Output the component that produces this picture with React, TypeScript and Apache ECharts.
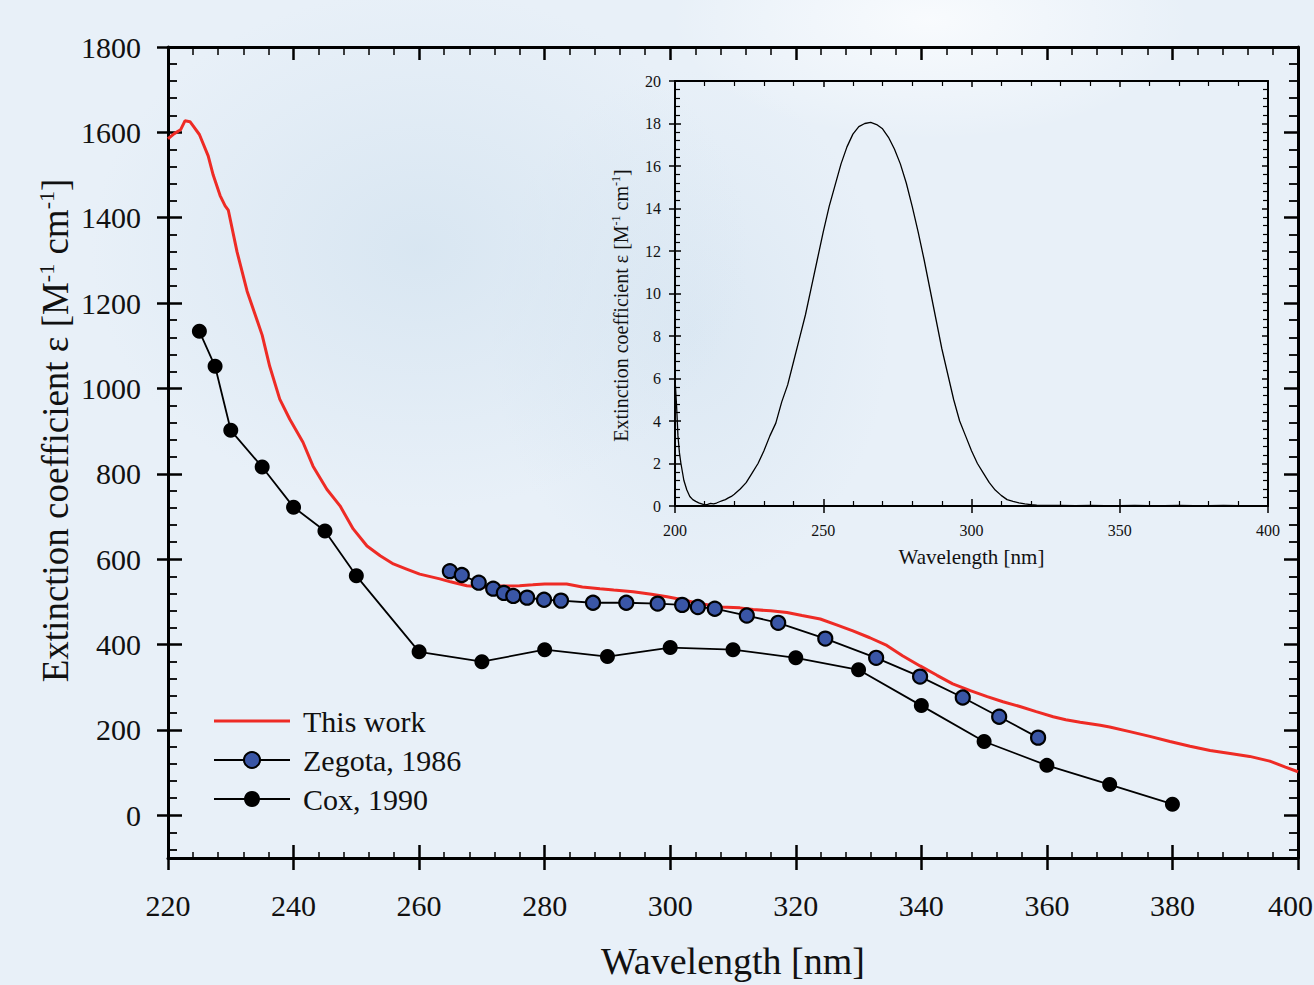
import React, { useEffect, useRef } from "react";
import * as echarts from "echarts";

const FONT = "Liberation Serif";

// Main plot: "This work" (red curve)
const thisWorkX = [220, 221, 222, 222.7, 223.5, 224, 225, 226.4, 227.2, 228.3, 229.1, 229.6, 231, 232.6, 234.3, 235, 236.2, 237.8, 239.4, 241.5, 243.1, 245.3, 247.4, 249.5, 251.7, 253.8, 255.9, 258, 260.1, 263.3, 265, 267.6, 270, 272.9, 276, 278.1, 280, 283.5, 286, 288.8, 291, 294.1, 297, 299.5, 302, 304.7, 308, 311.1, 313.2, 316, 318.6, 321, 323.9, 326.5, 329.1, 331.8, 334.5, 337, 339.8, 342.5, 345, 347.8, 350.5, 353, 355.7, 358.3, 361, 363, 365.3, 368.5, 370, 373.2, 376.4, 379.6, 382.8, 386, 389.2, 392.3, 395.5, 398, 400];
const thisWorkY = [1585, 1597, 1606, 1627, 1625, 1615, 1595, 1545, 1500, 1452, 1428, 1418, 1320, 1228, 1155, 1125, 1052, 975, 928, 874, 818, 764, 725, 671, 631, 608, 589, 577, 565, 554, 547, 538, 535, 537, 538, 540, 542, 542, 535, 531, 528, 524, 518, 512, 505, 496, 488, 486, 482, 479, 475, 468, 460, 446, 432, 416, 398, 374, 350, 328, 308, 292, 278, 266, 255, 243, 231, 224, 218, 211, 207, 196, 185, 173, 162, 152, 145, 138, 127, 113, 102];

// Zegota, 1986
const zegotaX = [264.9, 266.8, 269.5, 271.8, 273.5, 275, 277.2, 279.9, 282.6, 287.7, 293, 298, 301.9, 304.4, 307.1, 312.2, 317.2, 324.7, 332.8, 339.8, 346.6, 352.4, 358.6];
const zegotaY = [572, 563, 545, 531, 521, 514, 510, 505, 503, 498, 498, 496, 493, 488, 484, 468, 451, 414, 369, 325, 276, 231, 182];

// Cox, 1990
const coxX = [225, 227.5, 230, 235, 240, 245, 250, 260, 270, 280, 290, 300, 310, 320, 330, 340, 350, 360, 370, 380];
const coxY = [1134, 1052, 902, 816, 722, 666, 561, 383, 360, 388, 372, 393, 388, 369, 341, 257, 173, 117, 72, 26];

// Inset spectrum
const insetX = [200, 200.5, 201, 201.5, 202, 203, 204, 205, 206, 207, 208, 209, 210, 211, 212, 213, 214, 215, 216, 217, 218, 219, 220, 222, 224, 226, 228, 230, 232, 234, 236, 238, 240, 242, 244, 246, 248, 250, 252, 254, 256, 258, 260, 262, 264, 266, 268, 270, 272, 274, 276, 278, 280, 282, 284, 286, 288, 290, 292, 294, 296, 298, 300, 302, 304, 306, 308, 310, 312, 314, 316, 318, 320, 322, 325, 330, 335, 340, 345, 350, 355, 360, 365, 370, 375, 380, 385, 390, 395, 400];
const insetY = [6.0, 4.8, 3.3, 2.5, 2.0, 1.2, 0.75, 0.45, 0.3, 0.22, 0.15, 0.1, 0.05, 0.08, 0.12, 0.1, 0.14, 0.2, 0.25, 0.3, 0.38, 0.45, 0.55, 0.8, 1.1, 1.55, 2.0, 2.6, 3.3, 3.9, 4.9, 5.7, 6.8, 7.9, 9.0, 10.3, 11.6, 12.9, 14.1, 15.1, 16.1, 16.9, 17.5, 17.85, 18.0, 18.05, 17.95, 17.75, 17.35, 16.8, 16.1, 15.2, 14.1, 12.9, 11.6, 10.2, 8.8, 7.4, 6.2, 5.0, 4.0, 3.3, 2.6, 2.0, 1.55, 1.1, 0.75, 0.5, 0.3, 0.22, 0.15, 0.1, 0.06, 0.04, 0.03, 0.03, 0.02, 0.03, 0.02, 0.02, 0.03, 0.02, 0.02, 0.03, 0.02, 0.02, 0.03, 0.02, 0.02, 0.02];

// Tick labels
const mainXTicks = [220, 240, 260, 280, 300, 320, 340, 360, 380, 400];
const mainYTicks = [0, 200, 400, 600, 800, 1000, 1200, 1400, 1600, 1800];
const insetXTicks = [200, 250, 300, 350, 400];
const insetYTicks = [0, 2, 4, 6, 8, 10, 12, 14, 16, 18, 20];
const legendNames = ["This work", "Zegota, 1986", "Cox, 1990"];

const mainYMinor: number[] = [];
for (let v = -80; v < 1800; v += 40) {
  if (v % 200 !== 0) mainYMinor.push(v);
}

const zip = (xs: number[], ys: number[]) => xs.map((x, i) => [x, ys[i]]);

const BLACK = "#000";
const TXT = "#111";
const RED = "#ee2b25";
const W = 1314;

export default function App() {
  const ref = useRef<HTMLDivElement>(null);
  useEffect(() => {
    if (!ref.current) return;
    const chart = echarts.init(ref.current, null, { renderer: "svg" });
    const hiddenLabel = { show: false };
    const noLine = { show: false, onZero: false };
    const option: any = {
      animation: false,
      backgroundColor: "transparent",
      textStyle: { fontFamily: FONT, color: TXT },
      grid: [
        { left: 168, top: 47, width: 1130, height: 812 },
        { left: 675, top: 81, width: 593, height: 425 },
      ],
      legend: {
        orient: "vertical",
        left: 208,
        top: 701,
        itemWidth: 76,
        itemHeight: 20,
        itemGap: 9,
        data: [
          { name: legendNames[0], icon: "path://M0,0 L76,0 L76,3 L0,3 Z", itemStyle: { color: RED } },
          { name: legendNames[1] },
          { name: legendNames[2] },
        ],
        textStyle: { fontSize: 30, fontFamily: FONT, color: TXT, padding: [0, 0, 0, 8] },
      },
      xAxis: [
        {
          gridIndex: 0, type: "value", min: 220, max: 400, interval: 20, position: "bottom",
          axisLine: { onZero: false, lineStyle: { color: BLACK, width: 3 } },
          axisTick: { inside: true, length: 13, lineStyle: { color: BLACK, width: 2.5 } },
          minorTick: { show: true, splitNumber: 5, length: 6, lineStyle: { color: BLACK, width: 1.5 } },
          splitLine: { show: false },
          axisLabel: hiddenLabel,
          name: "Wavelength [nm]", nameLocation: "middle", nameGap: 84,
          nameTextStyle: { fontSize: 38, fontFamily: FONT, color: TXT },
        },
        {
          gridIndex: 0, type: "value", min: 220, max: 400, interval: 20, position: "bottom",
          axisLine: noLine, axisTick: { inside: false, length: 12, lineStyle: { color: BLACK, width: 2.5 } },
          splitLine: { show: false }, axisLabel: hiddenLabel,
        },
        {
          gridIndex: 0, type: "value", min: 220, max: 400, interval: 20, position: "top",
          axisLine: { onZero: false, lineStyle: { color: BLACK, width: 3 } },
          axisTick: { inside: true, length: 13, lineStyle: { color: BLACK, width: 2.5 } },
          minorTick: { show: true, splitNumber: 5, length: 8, lineStyle: { color: BLACK, width: 1.5 } },
          splitLine: { show: false }, axisLabel: hiddenLabel,
        },
        {
          gridIndex: 1, type: "value", min: 200, max: 400, interval: 50, position: "bottom",
          axisLine: { onZero: false, lineStyle: { color: BLACK, width: 2 } },
          axisTick: { inside: true, length: 7, lineStyle: { color: BLACK, width: 1.5 } },
          minorTick: { show: true, splitNumber: 5, length: 5, lineStyle: { color: BLACK, width: 1.2 } },
          splitLine: { show: false },
          axisLabel: hiddenLabel,
          name: "Wavelength [nm]", nameLocation: "middle", nameGap: 40,
          nameTextStyle: { fontSize: 21, fontFamily: FONT, color: TXT },
        },
        {
          gridIndex: 1, type: "value", min: 200, max: 400, interval: 50, position: "bottom",
          axisLine: noLine, axisTick: { inside: false, length: 7, lineStyle: { color: BLACK, width: 1.5 } },
          splitLine: { show: false }, axisLabel: hiddenLabel,
        },
        {
          gridIndex: 1, type: "value", min: 200, max: 400, interval: 50, position: "top",
          axisLine: { onZero: false, lineStyle: { color: BLACK, width: 2 } },
          axisTick: { inside: true, length: 6, lineStyle: { color: BLACK, width: 1.5 } },
          minorTick: { show: true, splitNumber: 5, length: 5, lineStyle: { color: BLACK, width: 1.2 } },
          splitLine: { show: false }, axisLabel: hiddenLabel,
        },
      ],
      yAxis: [
        {
          gridIndex: 0, type: "value", min: -100, max: 1800, position: "left",
          axisLine: { onZero: false, lineStyle: { color: BLACK, width: 3 } },
          axisTick: { inside: true, length: 14, customValues: mainYTicks, lineStyle: { color: BLACK, width: 2.5 } },
          splitLine: { show: false },
          axisLabel: hiddenLabel,
          name: "{a|Extinction coefficient ε [M}{s|-1}{a| cm}{s|-1}{a|]}",
          nameLocation: "middle", nameGap: 93,
          nameTextStyle: {
            padding: [0, 0, 0, 44],
            rich: {
              a: { fontSize: 37, fontFamily: FONT, color: TXT, lineHeight: 40 },
              s: { fontSize: 22, fontFamily: FONT, color: TXT, verticalAlign: "top", lineHeight: 40 },
            },
          },
        },
        {
          gridIndex: 0, type: "value", min: -100, max: 1800, position: "left",
          axisLine: noLine,
          axisTick: { inside: false, length: 11, customValues: mainYTicks, lineStyle: { color: BLACK, width: 2.5 } },
          splitLine: { show: false }, axisLabel: hiddenLabel,
        },
        {
          gridIndex: 0, type: "value", min: -100, max: 1800, position: "left",
          axisLine: noLine,
          axisTick: { inside: true, length: 9, customValues: mainYMinor, lineStyle: { color: BLACK, width: 1.8 } },
          splitLine: { show: false }, axisLabel: hiddenLabel,
        },
        {
          gridIndex: 0, type: "value", min: -100, max: 1800, position: "right",
          axisLine: { onZero: false, lineStyle: { color: BLACK, width: 3 } },
          axisTick: { inside: true, length: 14, customValues: mainYTicks, lineStyle: { color: BLACK, width: 2.5 } },
          splitLine: { show: false }, axisLabel: hiddenLabel,
        },
        {
          gridIndex: 0, type: "value", min: -100, max: 1800, position: "right",
          axisLine: noLine,
          axisTick: { inside: true, length: 9, customValues: mainYMinor, lineStyle: { color: BLACK, width: 1.8 } },
          splitLine: { show: false }, axisLabel: hiddenLabel,
        },
        {
          gridIndex: 1, type: "value", min: 0, max: 20, interval: 2, position: "left",
          axisLine: { onZero: false, lineStyle: { color: BLACK, width: 2 } },
          axisTick: { inside: true, length: 6, lineStyle: { color: BLACK, width: 1.5 } },
          minorTick: { show: true, splitNumber: 5, length: 5, lineStyle: { color: BLACK, width: 1.2 } },
          splitLine: { show: false },
          axisLabel: hiddenLabel,
          name: "{a|Extinction coefficient ε [M}{s|-1}{a| cm}{s|-1}{a|]}",
          nameLocation: "middle", nameGap: 43,
          nameTextStyle: {
            padding: [0, 24, 0, 0],
            rich: {
              a: { fontSize: 20, fontFamily: FONT, color: TXT, lineHeight: 22 },
              s: { fontSize: 12, fontFamily: FONT, color: TXT, verticalAlign: "top", lineHeight: 22 },
            },
          },
        },
        {
          gridIndex: 1, type: "value", min: 0, max: 20, interval: 2, position: "left",
          axisLine: noLine, axisTick: { inside: false, length: 6, lineStyle: { color: BLACK, width: 1.5 } },
          splitLine: { show: false }, axisLabel: hiddenLabel,
        },
        {
          gridIndex: 1, type: "value", min: 0, max: 20, interval: 2, position: "right",
          axisLine: { onZero: false, lineStyle: { color: BLACK, width: 2 } },
          axisTick: { inside: true, length: 6, lineStyle: { color: BLACK, width: 1.5 } },
          minorTick: { show: true, splitNumber: 5, length: 5, lineStyle: { color: BLACK, width: 1.2 } },
          splitLine: { show: false }, axisLabel: hiddenLabel,
        },
      ],
      series: [
        {
          name: "This work", type: "line", xAxisIndex: 0, yAxisIndex: 0,
          data: zip(thisWorkX, thisWorkY), symbol: "none",
          lineStyle: { color: RED, width: 3 }, itemStyle: { color: RED }, z: 3,
        },
        {
          name: "Zegota, 1986", type: "line", xAxisIndex: 0, yAxisIndex: 0,
          data: zip(zegotaX, zegotaY), symbol: "circle", symbolSize: 14,
          lineStyle: { color: BLACK, width: 1.8 },
          itemStyle: { color: "#3a56a6", borderColor: BLACK, borderWidth: 2.2 }, z: 4,
        },
        {
          name: "Cox, 1990", type: "line", xAxisIndex: 0, yAxisIndex: 0,
          data: zip(coxX, coxY), symbol: "circle", symbolSize: 15,
          lineStyle: { color: BLACK, width: 1.8 },
          itemStyle: { color: BLACK, borderColor: BLACK, borderWidth: 0 }, z: 4,
        },
        {
          name: "Inset", type: "line", xAxisIndex: 3, yAxisIndex: 5,
          data: zip(insetX, insetY), symbol: "none",
          lineStyle: { color: BLACK, width: 1.3 }, z: 3,
        },
      ],
    };
    chart.setOption(option);

    // Tick labels placed through the axes' own scales
    const labels: any[] = [];
    const mkText = (text: string, x: number, y: number, size: number, align: string, vAlign: string) => ({
      type: "text",
      x,
      y,
      silent: true,
      z: 10,
      style: { text, fontSize: size, fontFamily: FONT, fill: TXT, align, verticalAlign: vAlign },
    });
    const mainBottom = chart.convertToPixel({ yAxisIndex: 0 }, -100) as number;
    const mainLeft = chart.convertToPixel({ xAxisIndex: 0 }, 220) as number;
    mainXTicks.forEach((v) => {
      const px = chart.convertToPixel({ xAxisIndex: 0 }, v) as number;
      const half = String(v).length * 7.5;
      if (px + half > W - 1) {
        labels.push(mkText(String(v), W - 1, mainBottom + 47, 30, "right", "middle"));
      } else {
        labels.push(mkText(String(v), px, mainBottom + 47, 30, "center", "middle"));
      }
    });
    mainYTicks.forEach((v) => {
      const py = chart.convertToPixel({ yAxisIndex: 0 }, v) as number;
      labels.push(mkText(String(v), mainLeft - 27, py, 30, "right", "middle"));
    });
    const insetBottom = chart.convertToPixel({ yAxisIndex: 5 }, 0) as number;
    const insetLeft = chart.convertToPixel({ xAxisIndex: 3 }, 200) as number;
    insetXTicks.forEach((v) => {
      const px = chart.convertToPixel({ xAxisIndex: 3 }, v) as number;
      labels.push(mkText(String(v), px, insetBottom + 24, 16, "center", "middle"));
    });
    insetYTicks.forEach((v) => {
      const py = chart.convertToPixel({ yAxisIndex: 5 }, v) as number;
      labels.push(mkText(String(v), insetLeft - 14, py, 16, "right", "middle"));
    });
    chart.setOption({ graphic: labels });

    return () => chart.dispose();
  }, []);

  return (
    <div
      style={{
        position: "absolute",
        left: 0,
        top: 0,
        width: 1314,
        height: 985,
        overflow: "hidden",
        background:
          "radial-gradient(ellipse 330px 260px at 420px 250px, rgba(210,226,239,0.7), rgba(210,226,239,0) 100%)," +
          "radial-gradient(ellipse 200px 260px at 690px 330px, rgba(212,227,240,0.6), rgba(212,227,240,0) 100%)," +
          "radial-gradient(ellipse 260px 120px at 930px 20px, rgba(250,252,254,0.9), rgba(250,252,254,0) 100%)," +
          "#e8f0f8",
      }}
    >
      <div ref={ref} style={{ width: 1314, height: 985 }} />
    </div>
  );
}
